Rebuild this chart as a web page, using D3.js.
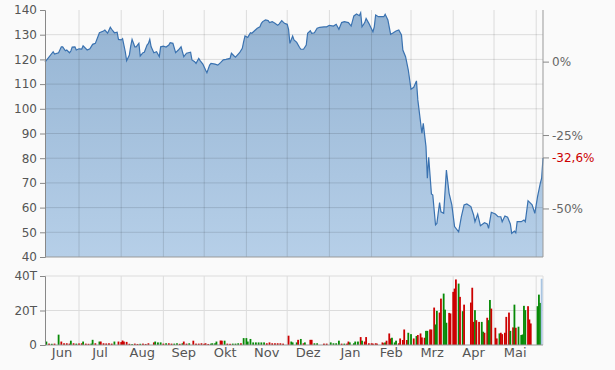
<!DOCTYPE html>
<html lang="de">
<head>
<meta charset="UTF-8">
<title>Kurs</title>
<script src="https://d3js.org/d3.v7.min.js"></script>
<style>
  body { margin: 0; background: #fafafa; }
  text { font-family: "DejaVu Sans", Verdana, sans-serif; }
</style>
</head>
<body>
<script>
// closing prices (date, EUR)
const price = [
["2019-06-06",118.9],["2019-06-12",123.1],["2019-06-13",122.2],["2019-06-16",122.7],["2019-06-18",125.1],["2019-06-19",125.1],
["2019-06-21",123.5],["2019-06-22",123.8],["2019-06-24",122.7],["2019-06-25",123.4],["2019-06-26",125.0],["2019-06-28",125.1],
["2019-06-29",123.8],["2019-07-01",124.3],["2019-07-03",124.2],["2019-07-04",125.5],["2019-07-07",123.8],["2019-07-09",124.3],
["2019-07-11",126.1],["2019-07-13",126.5],["2019-07-16",130.8],["2019-07-19",131.5],["2019-07-20",131.9],["2019-07-22",130.6],
["2019-07-24",133.0],["2019-07-25",132.2],["2019-07-27",130.8],["2019-07-29",131.0],["2019-07-30",128.1],["2019-08-01",127.9],
["2019-08-02",128.4],["2019-08-04",123.1],["2019-08-05",119.5],["2019-08-07",121.8],["2019-08-08",125.4],["2019-08-09",128.1],
["2019-08-11",125.1],["2019-08-12",125.1],["2019-08-14",126.5],["2019-08-15",121.4],["2019-08-17",122.7],["2019-08-18",122.9],
["2019-08-20",125.8],["2019-08-21",126.5],["2019-08-22",128.1],["2019-08-23",125.1],["2019-08-25",122.7],["2019-08-27",123.1],
["2019-08-29",121.1],["2019-08-30",125.1],["2019-09-01",125.4],["2019-09-03",125.0],["2019-09-05",125.8],["2019-09-06",126.8],
["2019-09-08",126.5],["2019-09-10",122.7],["2019-09-12",123.8],["2019-09-14",125.1],["2019-09-16",121.1],["2019-09-18",122.5],
["2019-09-21",122.9],["2019-09-22",119.8],["2019-09-24",119.1],["2019-09-25",118.4],["2019-09-27",120.4],["2019-09-28",119.5],
["2019-09-30",118.1],["2019-10-02",115.7],["2019-10-03",114.6],["2019-10-05",117.7],["2019-10-06",118.4],["2019-10-09",118.1],
["2019-10-11",117.7],["2019-10-13",118.7],["2019-10-15",119.8],["2019-10-17",120.0],["2019-10-20",120.4],["2019-10-21",122.5],
["2019-10-23",121.4],["2019-10-24",120.9],["2019-10-27",122.7],["2019-10-29",124.5],["2019-10-30",127.2],["2019-10-31",129.5],
["2019-11-02",128.9],["2019-11-04",130.8],["2019-11-05",130.6],["2019-11-07",131.6],["2019-11-09",132.6],["2019-11-11",133.2],
["2019-11-12",134.6],["2019-11-13",135.3],["2019-11-15",136.0],["2019-11-17",135.7],["2019-11-18",134.9],["2019-11-20",135.3],
["2019-11-22",134.6],["2019-11-24",133.8],["2019-11-25",134.3],["2019-11-27",135.7],["2019-11-29",134.6],["2019-12-01",134.2],
["2019-12-02",132.2],["2019-12-03",126.5],["2019-12-05",129.5],["2019-12-06",127.9],["2019-12-08",126.9],["2019-12-10",124.9],
["2019-12-11",124.1],["2019-12-13",124.1],["2019-12-15",125.8],["2019-12-16",130.6],["2019-12-18",131.6],["2019-12-19",130.6],
["2019-12-21",130.8],["2019-12-23",132.6],["2019-12-25",133.0],["2019-12-28",133.2],["2019-12-30",133.2],["2020-01-01",133.8],
["2020-01-04",133.5],["2020-01-06",134.2],["2020-01-08",132.2],["2020-01-10",134.9],["2020-01-12",135.3],["2020-01-15",134.9],
["2020-01-17",133.5],["2020-01-19",137.6],["2020-01-21",138.4],["2020-01-23",137.7],["2020-01-24",138.9],["2020-01-25",133.2],
["2020-01-27",134.9],["2020-01-28",136.6],["2020-01-30",134.6],["2020-02-02",131.2],["2020-02-03",133.2],["2020-02-04",138.0],
["2020-02-06",137.3],["2020-02-10",137.3],["2020-02-11",138.3],["2020-02-13",136.0],["2020-02-15",130.2],["2020-02-17",130.8],
["2020-02-19",131.5],["2020-02-21",131.9],["2020-02-23",129.9],["2020-02-24",123.8],["2020-02-26",121.1],["2020-02-28",115.7],
["2020-03-01",107.9],["2020-03-03",108.7],["2020-03-05",111.3],["2020-03-06",103.6],["2020-03-09",90.1],["2020-03-10",94.1],
["2020-03-12",84.7],["2020-03-13",71.9],["2020-03-14",80.4],["2020-03-16",65.5],["2020-03-17",65.1],["2020-03-19",53.0],
["2020-03-20",53.6],["2020-03-22",62.0],["2020-03-23",58.3],["2020-03-25",57.7],["2020-03-27",75.2],["2020-03-29",65.8],
["2020-03-31",61.1],["2020-04-02",52.3],["2020-04-05",50.2],["2020-04-07",56.3],["2020-04-09",61.1],["2020-04-11",61.5],
["2020-04-14",60.4],["2020-04-16",57.0],["2020-04-17",54.3],["2020-04-19",57.4],["2020-04-21",52.7],["2020-04-24",53.9],
["2020-04-26",53.4],["2020-04-27",51.6],["2020-04-29",58.1],["2020-05-02",57.4],["2020-05-04",56.3],["2020-05-06",56.3],
["2020-05-07",54.3],["2020-05-09",56.6],["2020-05-11",56.1],["2020-05-13",53.4],["2020-05-14",49.6],["2020-05-16",50.5],
["2020-05-17",49.8],["2020-05-18",54.3],["2020-05-21",54.3],["2020-05-23",55.0],["2020-05-24",54.3],["2020-05-26",62.8],
["2020-05-29",61.1],["2020-05-31",57.7],["2020-06-02",64.4],["2020-06-04",69.8],["2020-06-05",71.9],["2020-06-06",80.1]
];

// volume in thousands, g = up day, r = down day, c = current
const volume = [
["2019-06-07",2.0,"g"],["2019-06-09",0.8,"r"],["2019-06-11",0.7,"g"],["2019-06-13",0.8,"r"],["2019-06-16",6.0,"g"],["2019-06-18",2.0,"r"],
["2019-06-20",1.0,"r"],["2019-06-22",1.0,"r"],["2019-06-24",0.8,"r"],["2019-06-25",2.5,"g"],["2019-06-27",1.0,"r"],["2019-06-29",0.8,"g"],
["2019-07-01",0.9,"r"],["2019-07-03",1.0,"r"],["2019-07-04",2.0,"g"],["2019-07-06",0.8,"r"],["2019-07-08",0.7,"r"],["2019-07-10",0.8,"g"],
["2019-07-11",3.0,"g"],["2019-07-13",1.0,"r"],["2019-07-16",2.0,"g"],["2019-07-17",2.0,"r"],["2019-07-19",1.0,"r"],["2019-07-21",0.9,"r"],
["2019-07-23",1.0,"r"],["2019-07-25",0.8,"r"],["2019-07-27",2.0,"g"],["2019-07-30",2.0,"r"],["2019-08-01",1.7,"r"],["2019-08-02",2.6,"r"],
["2019-08-03",2.0,"r"],["2019-08-05",1.8,"r"],["2019-08-07",0.7,"r"],["2019-08-09",0.5,"g"],["2019-08-11",0.8,"r"],["2019-08-13",0.6,"r"],
["2019-08-15",0.7,"g"],["2019-08-17",0.8,"r"],["2019-08-19",0.6,"r"],["2019-08-21",1.0,"r"],["2019-08-25",1.5,"r"],["2019-08-26",2.0,"g"],
["2019-08-28",1.5,"g"],["2019-08-30",1.5,"g"],["2019-09-01",0.8,"r"],["2019-09-03",1.0,"g"],["2019-09-05",1.0,"r"],["2019-09-07",0.8,"r"],
["2019-09-09",0.8,"g"],["2019-09-11",1.0,"g"],["2019-09-13",0.7,"r"],["2019-09-15",1.0,"g"],["2019-09-16",2.0,"r"],["2019-09-18",0.8,"r"],
["2019-09-20",1.0,"g"],["2019-09-23",2.5,"r"],["2019-09-25",0.8,"r"],["2019-09-27",0.8,"r"],["2019-09-29",1.0,"r"],["2019-10-01",0.7,"r"],
["2019-10-02",1.0,"r"],["2019-10-04",0.6,"r"],["2019-10-06",0.8,"g"],["2019-10-07",1.0,"g"],["2019-10-09",1.0,"g"],["2019-10-10",2.0,"g"],
["2019-10-13",2.6,"r"],["2019-10-14",2.5,"r"],["2019-10-16",2.5,"g"],["2019-10-18",0.8,"r"],["2019-10-20",0.7,"r"],["2019-10-22",0.8,"g"],
["2019-10-24",0.8,"g"],["2019-10-26",1.0,"g"],["2019-10-28",1.0,"r"],["2019-10-30",4.0,"g"],["2019-11-01",4.0,"g"],["2019-11-02",2.0,"g"],
["2019-11-04",3.5,"g"],["2019-11-06",1.5,"g"],["2019-11-08",1.5,"g"],["2019-11-10",1.5,"g"],["2019-11-12",1.5,"g"],["2019-11-14",1.5,"g"],
["2019-11-16",1.0,"r"],["2019-11-18",1.5,"r"],["2019-11-20",1.0,"r"],["2019-11-22",1.0,"r"],["2019-11-24",1.0,"r"],["2019-11-26",1.0,"r"],
["2019-11-28",0.8,"r"],["2019-12-02",5.4,"r"],["2019-12-04",2.0,"g"],["2019-12-05",1.5,"g"],["2019-12-08",1.5,"g"],["2019-12-09",3.0,"r"],
["2019-12-11",3.5,"g"],["2019-12-13",1.0,"r"],["2019-12-14",1.5,"g"],["2019-12-18",3.0,"r"],["2019-12-19",3.0,"r"],["2019-12-21",1.0,"g"],
["2019-12-23",1.0,"g"],["2019-12-28",0.8,"r"],["2019-12-30",0.8,"r"],["2020-01-02",1.5,"g"],["2020-01-04",1.0,"g"],["2020-01-06",1.0,"g"],
["2020-01-08",2.5,"g"],["2020-01-10",0.8,"r"],["2020-01-12",0.8,"g"],["2020-01-14",0.8,"r"],["2020-01-15",2.0,"r"],["2020-01-16",1.5,"g"],
["2020-01-19",1.0,"g"],["2020-01-20",2.0,"g"],["2020-01-22",2.0,"g"],["2020-01-24",4.6,"r"],["2020-01-25",2.5,"g"],["2020-01-27",2.0,"r"],
["2020-01-28",4.6,"r"],["2020-01-30",1.0,"r"],["2020-02-01",1.0,"r"],["2020-02-02",0.8,"r"],["2020-02-04",1.0,"r"],["2020-02-05",0.8,"r"],
["2020-02-09",1.5,"r"],["2020-02-10",1.0,"r"],["2020-02-11",1.5,"g"],["2020-02-12",2.5,"r"],["2020-02-14",6.7,"r"],["2020-02-15",3.8,"r"],
["2020-02-16",4.2,"g"],["2020-02-18",1.5,"g"],["2020-02-19",2.5,"g"],["2020-02-21",1.0,"r"],["2020-02-22",3.8,"r"],["2020-02-24",2.9,"r"],
["2020-02-25",9.0,"r"],["2020-02-27",2.9,"r"],["2020-02-28",7.1,"g"],["2020-03-01",6.3,"g"],["2020-03-03",3.8,"r"],["2020-03-05",5.2,"g"],
["2020-03-06",5.8,"r"],["2020-03-08",6.7,"r"],["2020-03-09",4.4,"r"],["2020-03-11",4.2,"r"],["2020-03-12",8.2,"g"],["2020-03-13",8.2,"g"],
["2020-03-15",9.0,"r"],["2020-03-16",9.0,"r"],["2020-03-18",21.7,"r"],["2020-03-19",11.9,"g"],["2020-03-20",19.8,"g"],["2020-03-22",18.8,"r"],
["2020-03-23",26.9,"r"],["2020-03-25",29.8,"g"],["2020-03-26",20.5,"g"],["2020-03-27",12.9,"g"],["2020-03-29",18.6,"r"],["2020-03-30",18.3,"r"],
["2020-04-01",30.8,"r"],["2020-04-02",32.7,"r"],["2020-04-03",38.0,"r"],["2020-04-05",35.6,"g"],["2020-04-06",27.9,"r"],["2020-04-08",19.6,"g"],
["2020-04-09",23.4,"r"],["2020-04-14",24.6,"r"],["2020-04-15",33.2,"r"],["2020-04-16",13.4,"r"],["2020-04-17",20.2,"g"],["2020-04-18",14.4,"r"],
["2020-04-20",13.4,"r"],["2020-04-22",13.4,"g"],["2020-04-23",7.7,"g"],["2020-04-24",7.1,"r"],["2020-04-26",15.8,"r"],["2020-04-27",14.4,"g"],
["2020-04-28",26.1,"g"],["2020-04-29",21.1,"r"],["2020-05-02",10.0,"r"],["2020-05-03",3.8,"r"],["2020-05-05",6.7,"g"],["2020-05-06",7.1,"r"],
["2020-05-07",6.3,"r"],["2020-05-09",7.1,"r"],["2020-05-10",16.3,"r"],["2020-05-12",18.8,"r"],["2020-05-13",8.2,"g"],["2020-05-15",10.2,"r"],
["2020-05-16",23.4,"g"],["2020-05-17",10.0,"r"],["2020-05-19",10.6,"g"],["2020-05-21",5.8,"g"],["2020-05-22",6.1,"g"],["2020-05-23",22.7,"g"],
["2020-05-24",20.2,"g"],["2020-05-26",22.5,"r"],["2020-05-27",14.8,"r"],["2020-05-28",12.5,"r"],["2020-06-02",22.5,"g"],["2020-06-03",29.2,"g"],
["2020-06-04",24.4,"g"],["2020-06-05",38.4,"c"]
];

const priceTicks = [40, 50, 60, 70, 80, 90, 100, 110, 120, 130, 140];
const volTicks = [0, 20, 40];
const volTickLabels = ["0", "20T", "40T"];
const pctTicks = [0, -25, -50];
const monthNames = ["Jan", "Feb", "Mrz", "Apr", "Mai", "Jun", "Jul", "Aug", "Sep", "Okt", "Nov", "Dez"];
const range = ["2019-06-06", "2020-06-06"];

const parse = d3.timeParse("%Y-%m-%d");
const pts = price.map(d => ({ date: parse(d[0]), v: d[1] }));
const vols = volume.map(d => ({ date: parse(d[0]), v: d[1], dir: d[2] }));

const L = 45, R = 543;
const x = d3.scaleTime().domain(range.map(parse)).range([L, R]);
const y = d3.scaleLinear().domain([40, 140]).range([257, 10]);
const yv = d3.scaleLinear().domain([0, 40]).range([345, 276]);

const svg = d3.select("body").append("svg").attr("width", 615).attr("height", 370);

const grad = svg.append("defs").append("linearGradient")
  .attr("id", "fill").attr("x1", 0).attr("y1", 0).attr("x2", 0).attr("y2", 1);
grad.append("stop").attr("offset", "0%").attr("stop-color", "#95b4d3");
grad.append("stop").attr("offset", "100%").attr("stop-color", "#b6cfe8");

// price area
const area = d3.area().x(d => x(d.date)).y0(y(40)).y1(d => y(d.v));
const line = d3.line().x(d => x(d.date)).y(d => y(d.v));
svg.append("path").datum(pts).attr("d", area).attr("fill", "url(#fill)");

const grid = "rgba(0,0,0,0.12)";
const months = d3.timeMonth.range(x.domain()[0], x.domain()[1]);

// grid in price panel
svg.append("g").selectAll("line").data(priceTicks.slice(1, -1)).join("line")
  .attr("x1", L).attr("x2", R).attr("y1", d => y(d)).attr("y2", d => y(d))
  .attr("stroke", grid);
svg.append("g").selectAll("line").data(months).join("line")
  .attr("x1", d => x(d)).attr("x2", d => x(d)).attr("y1", y(140)).attr("y2", y(40))
  .attr("stroke", grid);

svg.append("path").datum(pts).attr("d", line)
  .attr("fill", "none").attr("stroke", "#3a72b0").attr("stroke-width", 1.2);

// left price axis
const axL = svg.append("g").attr("transform", `translate(${L},0)`)
  .call(d3.axisLeft(y).tickValues(priceTicks).tickSize(5).tickPadding(3));
axL.select(".domain").attr("stroke", "#888");
axL.selectAll(".tick line").attr("stroke", "#888");
axL.selectAll("text").attr("fill", "#555").style("font-size", "12px")
  .style("font-family", '"DejaVu Sans", Verdana, sans-serif');

svg.append("line").attr("x1", L).attr("x2", R).attr("y1", y(40)).attr("y2", y(40))
  .attr("stroke", "#999");

// right percent axis, relative to first close
const base = pts[0].v;
const last = pts[pts.length - 1].v;
const pctFmt = v => d3.format(".1f")(v).replace(".", ",").replace("−", "-") + "%";
const axR = svg.append("g").attr("transform", `translate(${R},0)`);
axR.append("line").attr("y1", y(140)).attr("y2", y(40)).attr("stroke", "#999");
const pctItems = pctTicks.map(p => ({ v: base * (1 + p / 100), label: p + "%", col: "#666" }));
pctItems.push({ v: last, label: pctFmt((last / base - 1) * 100), col: "#cc0000" });
const pt = axR.selectAll("g.t").data(pctItems).join("g").attr("class", "t")
  .attr("transform", d => `translate(0,${y(d.v)})`);
pt.append("line").attr("x2", 6).attr("stroke", "#888");
pt.append("text").attr("x", 9).attr("dy", "0.35em").attr("fill", d => d.col)
  .style("font-size", "12px").text(d => d.label);

// volume panel
svg.append("g").selectAll("line").data([20, 40]).join("line")
  .attr("x1", L).attr("x2", R).attr("y1", d => yv(d)).attr("y2", d => yv(d))
  .attr("stroke", "#dcdcdc");
svg.append("g").selectAll("line").data(months.concat([x.domain()[1]])).join("line")
  .attr("x1", d => x(d)).attr("x2", d => x(d)).attr("y1", yv(40)).attr("y2", yv(0))
  .attr("stroke", "#dcdcdc");

const volCol = { g: "#078a07", r: "#cc0000", c: "#a9c5e2" };
svg.append("g").selectAll("rect").data(vols).join("rect")
  .attr("x", d => x(d.date) - 0.9).attr("width", 1.8)
  .attr("y", d => yv(d.v)).attr("height", d => yv(0) - yv(d.v))
  .attr("fill", d => volCol[d.dir]);

const axV = svg.append("g").attr("transform", `translate(${L},0)`)
  .call(d3.axisLeft(yv).tickValues(volTicks).tickFormat((d, i) => volTickLabels[i]).tickSize(5).tickPadding(3));
axV.select(".domain").attr("stroke", "#888");
axV.selectAll(".tick line").attr("stroke", "#888");
axV.selectAll("text").attr("fill", "#555").style("font-size", "12px")
  .style("font-family", '"DejaVu Sans", Verdana, sans-serif');

svg.append("line").attr("x1", L).attr("x2", R).attr("y1", yv(0)).attr("y2", yv(0))
  .attr("stroke", "#999");

// month labels centred in the visible part of each month
const [d0, d1] = x.domain();
const labelMonths = [d3.timeMonth.floor(d0)].concat(months).map(m => {
  const a = Math.max(x(m), L), b = Math.min(x(d3.timeMonth.offset(m, 1)), R);
  return { m, c: (a + b) / 2, w: b - a };
}).filter(d => d.w > 20);
svg.append("g").selectAll("text").data(labelMonths).join("text")
  .attr("x", d => d.c).attr("y", 357).attr("text-anchor", "middle")
  .attr("fill", "#555").style("font-size", "13px")
  .text(d => monthNames[d.m.getMonth()]);
</script>
</body>
</html>
